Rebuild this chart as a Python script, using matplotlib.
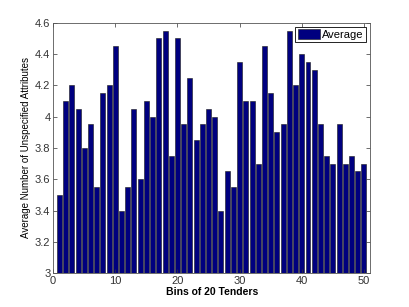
import matplotlib
matplotlib.use('Agg')
import matplotlib.pyplot as plt
import numpy as np

plt.rcParams['font.family'] = ['Liberation Sans', 'DejaVu Sans']

# average number of unspecified attributes per bin of 20 tenders
bins = np.arange(1, 51)
averages = [3.50, 4.10, 4.20, 4.05, 3.80, 3.95, 3.55, 4.15, 4.20, 4.45,
            3.40, 3.55, 4.05, 3.60, 4.10, 4.00, 4.50, 4.55, 3.75, 4.50,
            3.95, 4.25, 3.85, 3.95, 4.05, 4.00, 3.40, 3.65, 3.55, 4.35,
            4.10, 4.10, 3.70, 4.45, 4.15, 3.90, 3.95, 4.55, 4.20, 4.40,
            4.35, 4.30, 3.95, 3.75, 3.70, 3.95, 3.70, 3.75, 3.65, 3.70]
yticks = [3, 3.2, 3.4, 3.6, 3.8, 4, 4.2, 4.4, 4.6]
ytick_labels = ['3', '3.2', '3.4', '3.6', '3.8', '4', '4.2', '4.4', '4.6']
xticks = [0, 10, 20, 30, 40, 50]

fig = plt.figure(figsize=(4.09, 3.07), dpi=100)
ax = fig.add_axes([0.13, 0.11, 0.775, 0.816])

ax.bar(bins, averages, width=0.8, color='#00007f', edgecolor='#1a1a1a',
       linewidth=0.4, label='Average')

ax.set_xlim(0, 51)
ax.set_ylim(3, 4.6)
ax.set_xticks(xticks)
ax.set_yticks(yticks)
ax.set_yticklabels(ytick_labels)
ax.tick_params(direction='in', top=True, right=True, labelsize=8,
               length=3, width=0.5, colors='#333333', pad=2)
for s in ax.spines.values():
    s.set_linewidth(0.6)
    s.set_color('#555555')

ax.set_xlabel('Bins of 20 Tenders', fontsize=7.5, fontweight='bold', labelpad=1)
ax.set_ylabel('Average Number of Unspecified Attributes', fontsize=7, labelpad=3)

leg = ax.legend(loc='upper right', fontsize=8, fancybox=False, framealpha=1,
                borderpad=0.2, handlelength=2.0, handleheight=1.0,
                handletextpad=0.2, borderaxespad=0.4)
leg.get_frame().set_edgecolor('black')
leg.get_frame().set_linewidth(0.6)

fig.savefig('out.png', dpi=100)
